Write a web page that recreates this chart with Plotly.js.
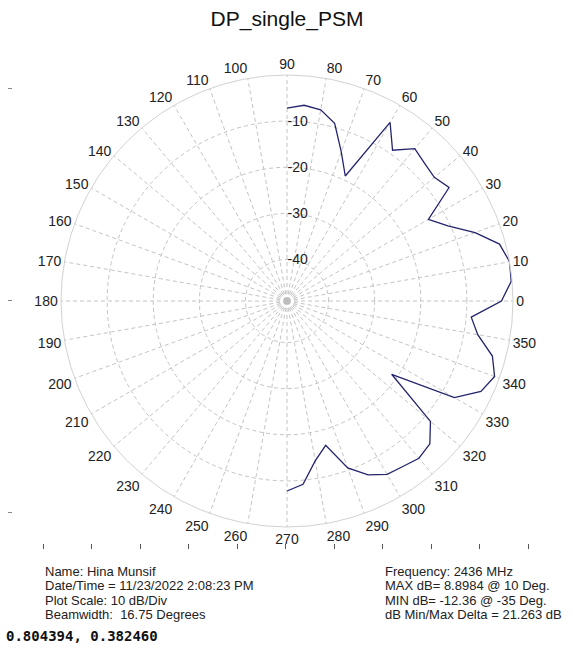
<!DOCTYPE html>
<html>
<head>
<meta charset="utf-8">
<script src="https://cdn.plot.ly/plotly-3.0.1.min.js"></script>
<style>
html,body{margin:0;padding:0;background:#fff;}
#chart{width:573px;height:653px;}
</style>
</head>
<body>
<div id="chart"></div>
<script>
// ---- data (normalized dB, relative to max) ----
const angleDeg = [-90,-85,-80,-75,-70,-65,-60,-55,-50,-45,-40,-35,-30,-25,-20,-15,-10,-5,0,5,10,15,20,25,30,35,40,45,50,55,60,65,70,75,80,85,90];
const gainDb   = [-7.8,-9.1,-13.8,-16.6,-10.5,-7.4,-5.6,-5.2,-4.5,-5.2,-8.4,-21.3,-7.1,-2.6,-1.1,-2.9,-7.0,-8.9,-2.5,-0.2,0,-1.3,-5.6,-10.5,-13.6,-6.1,-7.3,-6.8,-5.9,-9.1,-4.3,-19.1,-14.6,-9.1,-6.9,-6.4,-7.2];
const radialTicks = [-40,-30,-20,-10];
const radialTickText = ['-40','-30','-20','-10'];
const angularTicks = [0,10,20,30,40,50,60,70,80,90,100,110,120,130,140,150,160,170,180,190,200,210,220,230,240,250,260,270,280,290,300,310,320,330,340,350];
const radialRange = [-49, 0];
const frameTicks = [-1,-0.8,-0.6,-0.4,-0.2,0,0.2,0.4,0.6,0.8,1];
const frameTicksY = [-1,0,1];
const chartTitle = 'DP_single_PSM';
const infoLeft = ['Name: Hina Munsif','Date/Time = 11/23/2022 2:08:23 PM','Plot Scale: 10 dB/Div','Beamwidth:  16.75 Degrees'];
const infoRight = ['Frequency: 2436 MHz','MAX dB= 8.8984 @ 10 Deg.','MIN dB= -12.36 @ -35 Deg.','dB Min/Max Delta = 21.263 dB'];
const cursorText = '0.804394, 0.382460';

const W = 573, H = 653;
const cx = 287, cy = 301, R = 226;
const FONT = 'Arial, "Liberation Sans", sans-serif';
const gridColor = '#c4c4c4';
const gridDash = '4px,3px';

const traces = [
  {
    type: 'scatterpolar', mode: 'lines',
    r: gainDb, theta: angleDeg,
    line: {color: '#24246e', width: 1.3},
    hoverinfo: 'skip', showlegend: false
  },
  {
    type: 'scatterpolar', mode: 'markers',
    r: [radialRange[0]], theta: [0],
    marker: {symbol: 'square', size: 6, color: '#bdbdbd'},
    hoverinfo: 'skip', showlegend: false
  },
  {
    type: 'scatter', x: [], y: [], hoverinfo: 'skip', showlegend: false
  }
];

const annotations = [];
const lineY0 = 571, lineStep = 14.5;
infoLeft.forEach((t, i) => annotations.push({
  text: t, xref: 'paper', yref: 'paper', x: 43 / W, y: 1 - (lineY0 + i * lineStep) / H,
  xanchor: 'left', yanchor: 'middle', showarrow: false,
  font: {family: FONT, size: 13, color: '#222'}
}));
infoRight.forEach((t, i) => annotations.push({
  text: t, xref: 'paper', yref: 'paper', x: 383 / W, y: 1 - (lineY0 + i * lineStep) / H,
  xanchor: 'left', yanchor: 'middle', showarrow: false,
  font: {family: FONT, size: 13, color: '#222'}
}));
annotations.push({
  text: '<b>' + cursorText + '</b>', xref: 'paper', yref: 'paper', x: 4 / W, y: 1 - 636 / H,
  xanchor: 'left', yanchor: 'middle', showarrow: false,
  font: {family: '"DejaVu Sans Mono", monospace', size: 14, color: '#111'}
});

const layout = {
  width: W, height: H,
  margin: {l: 0, r: 0, t: 0, b: 0},
  paper_bgcolor: '#fff', plot_bgcolor: 'rgba(0,0,0,0)',
  showlegend: false,
  title: {
    text: chartTitle, xref: 'paper', yref: 'paper', x: 287 / W, xanchor: 'center',
    y: 1 - 19 / H, yanchor: 'middle',
    font: {family: FONT, size: 21, color: '#111'}
  },
  polar: {
    domain: {x: [(cx - R) / W, (cx + R) / W], y: [(H - cy - R) / H, (H - cy + R) / H]},
    bgcolor: 'rgba(0,0,0,0)',
    angularaxis: {
      rotation: 0, direction: 'counterclockwise',
      tickmode: 'array', tickvals: angularTicks, ticktext: angularTicks.map(String),
      ticks: '', showline: true, linecolor: '#d2d2d2', linewidth: 1,
      gridcolor: gridColor, griddash: gridDash, gridwidth: 1,
      tickfont: {family: FONT, size: 14, color: '#222'}
    },
    radialaxis: {
      range: radialRange, angle: 90, side: 'clockwise',
      tickmode: 'array', tickvals: radialTicks, ticktext: radialTickText,
      ticks: '', showline: false, tickangle: 90,
      gridcolor: gridColor, griddash: gridDash, gridwidth: 1,
      tickfont: {family: FONT, size: 14, color: '#222'}
    }
  },
  xaxis: {
    domain: [43 / W, 528 / W], range: [-1, 1],
    tickmode: 'array', tickvals: frameTicks, showticklabels: false,
    ticks: 'outside', ticklen: 5, tickcolor: '#555', tickwidth: 1,
    showgrid: false, zeroline: false, showline: false,
    anchor: 'free', position: (H - 543) / H, fixedrange: true
  },
  yaxis: {
    domain: [(H - 512) / H, (H - 88) / H], range: [-1, 1],
    tickmode: 'array', tickvals: frameTicksY, showticklabels: false,
    ticks: 'outside', ticklen: 4, tickcolor: '#888', tickwidth: 1,
    showgrid: false, zeroline: false, showline: false,
    anchor: 'free', position: 12 / W, fixedrange: true
  },
  annotations: annotations
};

Plotly.newPlot('chart', traces, layout, {staticPlot: true, displayModeBar: false});
</script>
</body>
</html>
